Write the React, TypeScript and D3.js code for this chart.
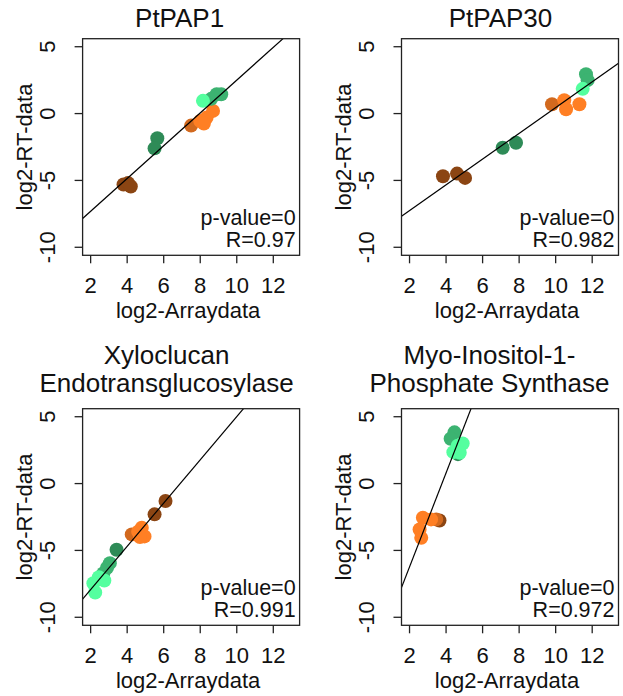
import React from 'react';
import * as d3 from 'd3';

// colour groups, drawn in this order
const groupColors = ['#8B4513', '#D2691E', '#FF7F24', '#2E8B57', '#3CB371', '#54FF9F'];

const titles = [['PtPAP1'], ['PtPAP30'], ['Xyloclucan', 'Endotransglucosylase'], ['Myo-Inositol-1-', 'Phosphate Synthase']];
const rValues = ['0.97', '0.982', '0.991', '0.972'];
const pValues = ['0', '0', '0', '0'];

// fitted lines: intercept, slope
const intercepts = [-9.76, -9.19, -11.16, -13.27];
const slopes = [1.226, 0.964, 1.617, 3.517];

// points per panel: x, y, colour group
const pts1X = [3.8, 4.05, 4.2, 7.5, 8.0, 8.35, 8.7, 8.2, 5.65, 5.5, 8.6, 8.9, 9.15, 8.15];
const pts1Y = [-5.3, -5.2, -5.45, -0.9, -0.55, -0.3, 0.2, -0.75, -1.85, -2.6, 1.1, 1.45, 1.45, 0.95];
const pts1G = [0, 0, 0, 1, 2, 2, 2, 2, 3, 3, 4, 4, 4, 5];

const pts2X = [3.83, 4.6, 5.04, 9.8, 10.47, 10.57, 11.3, 7.1, 7.83, 11.66, 11.75, 11.48];
const pts2Y = [-4.69, -4.49, -4.81, 0.7, 1.0, 0.32, 0.7, -2.56, -2.18, 2.94, 2.5, 1.85];
const pts2G = [0, 0, 0, 1, 2, 2, 2, 3, 3, 4, 4, 5];

const pts3X = [6.1, 5.5, 4.25, 4.8, 4.95, 4.6, 4.7, 3.42, 3.05, 2.7, 2.9, 2.15, 2.25, 2.75, 2.45];
const pts3Y = [-1.3, -2.3, -3.8, -3.3, -3.95, -3.6, -4.0, -4.95, -5.95, -6.7, -6.3, -7.45, -8.15, -7.25, -7.0];
const pts3G = [0, 0, 1, 2, 2, 2, 2, 3, 4, 4, 4, 5, 5, 5, 5];

const pts4X = [3.64, 3.46, 2.73, 3.18, 2.55, 2.64, 4.65, 4.46, 4.25, 4.64, 4.91, 4.4, 4.75];
const pts4Y = [-2.76, -2.68, -2.56, -2.68, -3.44, -4.06, 2.2, 3.83, 3.35, 2.83, 3.0, 2.35, 2.3];
const pts4G = [0, 1, 2, 2, 2, 2, 3, 4, 4, 5, 5, 5, 5];

const xTicks = [2, 4, 6, 8, 10, 12];
const yTicks = [-10, -5, 0, 5];

const panelX = [pts1X, pts2X, pts3X, pts4X];
const panelY = [pts1Y, pts2Y, pts3Y, pts4Y];
const panelG = [pts1G, pts2G, pts3G, pts4G];

// layout
const lefts = [82.6, 401.5, 82.6, 401.5];
const tops = [38.7, 38.7, 408.7, 408.7];
const titleOffsets = [97, 99, 84, 88];
const boxW = 217;
const boxH = 216.6;
const font = 'Liberation Sans, Arial, Helvetica, sans-serif';

function Panel({ i }: { i: number }) {
  const x = d3.scaleLinear().domain([1.56, 13.44]).range([0, boxW]);
  const y = d3.scaleLinear().domain([-10.6, 5.6]).range([boxH, 0]);
  const a = intercepts[i];
  const b = slopes[i];
  const [x0, x1] = x.domain();
  const line = d3.line<number>().x(v => x(v)).y(v => y(a + b * v));
  const clipId = `clip${i}`;
  const t = titles[i];
  return (
    <g transform={`translate(${lefts[i]},${tops[i]})`}>
      <defs>
        <clipPath id={clipId}>
          <rect width={boxW} height={boxH} />
        </clipPath>
      </defs>
      <g clipPath={`url(#${clipId})`}>
        {panelX[i].map((v, k) => (
          <circle key={k} cx={x(v)} cy={y(panelY[i][k])} r={7} fill={groupColors[panelG[i][k]]} />
        ))}
        <path d={line([x0, x1]) || ''} stroke="#000" strokeWidth={1.2} fill="none" />
      </g>
      <rect width={boxW} height={boxH} fill="none" stroke="#222" strokeWidth={1.3} />
      {xTicks.map(v => (
        <g key={v} transform={`translate(${x(v)},${boxH})`}>
          <line y1={0} y2={8} stroke="#222" strokeWidth={1.3} />
          <text y={37.4} textAnchor="middle" fontSize={22}>{v}</text>
        </g>
      ))}
      {yTicks.map(v => (
        <g key={v} transform={`translate(0,${y(v)})`}>
          <line x1={0} x2={-8} stroke="#222" strokeWidth={1.3} />
          <text transform="translate(-27.6,0) rotate(-90)" textAnchor="middle" fontSize={22}>{v}</text>
        </g>
      ))}
      <text x={boxW / 2 - 3} y={boxH + 62.7} textAnchor="middle" fontSize={22}>log2-Arraydata</text>
      <text transform={`translate(-51,${boxH / 2}) rotate(-90)`} textAnchor="middle" fontSize={22}>log2-RT-data</text>
      <text x={boxW - 4} y={boxH - 30.3} textAnchor="end" fontSize={21.5}>{`p-value=${pValues[i]}`}</text>
      <text x={boxW - 4} y={boxH - 8} textAnchor="end" fontSize={21.5}>{`R=${rValues[i]}`}</text>
      {t.map((s, k) => (
        <text key={k} x={titleOffsets[i]} y={(t.length === 1 ? -11.7 : -17) - (t.length - 1 - k) * 28} textAnchor="middle" fontSize={26}>
          {s}
        </text>
      ))}
    </g>
  );
}

export default function App() {
  return (
    <svg width={623} height={696} style={{ position: 'absolute', left: 0, top: 0, background: '#fff' }} fontFamily={font} fill="#111">
      {[0, 1, 2, 3].map(i => (
        <Panel key={i} i={i} />
      ))}
    </svg>
  );
}
